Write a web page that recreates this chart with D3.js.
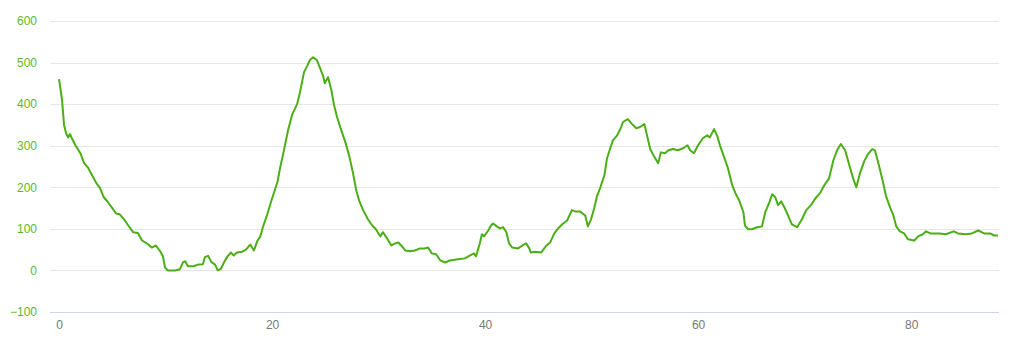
<!DOCTYPE html>
<html lang="en">
<meta charset="utf-8">
<style>
body {
  margin: 0;
  background: #fff;
  font-family: 'Liberation Sans', 'DejaVu Sans', sans-serif;
}
.grid line {
  stroke: #e6e6e6;
  stroke-width: 1;
}
.yaxis text {
  fill: #5cb82a;
  font-size: 12px;
}
.xaxis text {
  fill: #777777;
  font-size: 12px;
}
.elev {
  fill: none;
  stroke: #4cae16;
  stroke-width: 2;
  stroke-linejoin: round;
}
</style>
<body>
<div id="chart"></div>
<script src="https://cdnjs.cloudflare.com/ajax/libs/d3/7.8.5/d3.min.js"></script>
<script>

// distance (km) and elevation (m) read from the profile
var distance = [0, 0.28, 0.47, 0.66, 0.85, 1.03, 1.2, 1.5, 2.0, 2.35, 2.7, 3.1, 3.5, 3.85, 4.2, 4.6, 5.0, 5.35, 5.7, 6.1,
  6.5, 6.95, 7.4, 7.8, 8.35, 8.7, 9.1, 9.5, 9.75, 9.95, 10.2, 10.9, 11.35, 11.65, 11.85, 12.1, 12.6, 13.05, 13.5, 13.7,
  14.0, 14.3, 14.65, 14.9, 15.2, 15.5, 15.85, 16.15, 16.4, 16.7, 17.2, 17.55, 17.95, 18.3, 18.6, 18.9, 19.15, 19.55, 20.0, 20.5,
  20.75, 21.1, 21.5, 21.9, 22.35, 22.6, 23.0, 23.3, 23.55, 23.85, 24.2, 24.5, 24.8, 24.95, 25.25, 25.55, 25.8, 26.1, 26.5, 26.85,
  27.25, 27.6, 27.9, 28.2, 28.55, 29.0, 29.4, 29.75, 30.15, 30.4, 30.8, 31.2, 31.55, 31.85, 32.2, 32.5, 32.95, 33.4, 33.9, 34.35,
  34.65, 35.0, 35.4, 35.8, 36.25, 36.7, 37.45, 38.1, 38.6, 38.95, 39.15, 39.5, 39.7, 39.9, 40.3, 40.55, 40.75, 41.1, 41.4, 41.7,
  42.0, 42.25, 42.55, 43.1, 43.5, 43.85, 44.15, 44.3, 44.7, 45.25, 45.7, 46.1, 46.5, 46.85, 47.25, 47.7, 48.15, 48.45, 48.9, 49.4,
  49.65, 49.95, 50.25, 50.5, 50.8, 51.2, 51.45, 51.75, 52.0, 52.4, 52.7, 52.95, 53.4, 53.8, 54.2, 54.55, 54.95, 55.2, 55.5, 55.85,
  56.25, 56.5, 56.9, 57.2, 57.65, 58.1, 58.6, 59.0, 59.25, 59.6, 60.0, 60.45, 60.85, 61.1, 61.5, 61.8, 62.05, 62.45, 62.8, 63.2,
  63.5, 63.85, 64.25, 64.4, 64.7, 65.05, 65.55, 66.0, 66.3, 66.65, 66.95, 67.25, 67.5, 67.8, 68.1, 68.45, 68.8, 69.3, 69.75, 70.15,
  70.6, 71.0, 71.45, 71.85, 72.3, 72.7, 73.05, 73.4, 73.8, 74.2, 74.55, 74.85, 75.2, 75.6, 75.95, 76.35, 76.6, 76.9, 77.3, 77.65,
  78.05, 78.3, 78.6, 78.95, 79.35, 79.7, 80.3, 80.65, 81.1, 81.4, 81.8, 82.7, 83.25, 84.0, 84.4, 85.15, 85.7, 86.3, 86.85, 87.4,
  87.8, 88.15];

var elevation = [460, 410, 350, 330, 320, 328, 318, 303, 282, 258, 248, 229, 210, 198, 176, 164, 150, 137, 135, 123,
  108, 92, 90, 72, 63, 55, 60, 46, 34, 7, 0, 0, 3, 20, 22, 10, 10, 14, 15, 32,
  35, 20, 14, 0, 4, 20, 35, 43, 36, 43, 45, 50, 62, 48, 70, 82, 105, 135, 173, 212,
  246, 287, 337, 376, 400, 426, 477, 492, 506, 513, 506, 487, 467, 450, 465, 436, 400, 369, 337, 311,
  275, 234, 193, 166, 145, 123, 108, 99, 82, 92, 77, 60, 65, 67, 58, 48, 46, 48, 53, 53,
  55, 41, 39, 24, 19, 24, 27, 29, 36, 41, 34, 65, 87, 82, 96, 108, 113, 106, 101, 104,
  92, 65, 55, 53, 60, 65, 53, 43, 45, 43, 58, 67, 89, 101, 111, 120, 145, 142, 142, 132,
  106, 123, 150, 178, 198, 229, 270, 294, 313, 325, 340, 357, 364, 352, 342, 345, 352, 325, 292, 275,
  258, 284, 282, 289, 292, 289, 294, 301, 289, 282, 301, 318, 325, 320, 340, 323, 301, 272, 246, 205,
  186, 169, 140, 108, 99, 99, 104, 106, 140, 161, 183, 176, 157, 166, 152, 132, 111, 104, 123, 145,
  157, 173, 186, 205, 222, 265, 289, 304, 289, 253, 222, 200, 234, 263, 280, 292, 289, 260, 219, 178,
  150, 135, 106, 94, 89, 75, 72, 82, 87, 94, 89, 89, 87, 94, 89, 87, 89, 96, 89, 89,
  84, 84];

var yTicks = [-100, 0, 100, 200, 300, 400, 500, 600];
var xTicks = [0, 20, 40, 60, 80];

var width = 1024,
    height = 341;

var plotLeft = 50, plotRight = 999;

var x = d3.scaleLinear()
    .domain([-0.85, 88.25])
    .range([plotLeft, plotRight]);

var y = d3.scaleLinear()
    .domain([-100, 600])
    .range([312, 21]);

var svg = d3.select("#chart").append("svg")
    .attr("width", width)
    .attr("height", height);

// horizontal grid lines
svg.append("g")
    .attr("class", "grid")
  .selectAll("line")
    .data(yTicks)
  .enter().append("line")
    .attr("x1", plotLeft)
    .attr("x2", plotRight)
    .attr("y1", function(d) { return Math.round(y(d)) + 0.5; })
    .attr("y2", function(d) { return Math.round(y(d)) + 0.5; })
    .style("stroke", function(d) { return d === -100 ? "#ccd6eb" : null; });

// y labels
var yAxis = d3.axisLeft(y).tickValues(yTicks).tickSize(0).tickPadding(0)
    .tickFormat(function(d) { return d < 0 ? "\u2212" + Math.abs(d) : d; });
svg.append("g")
    .attr("class", "yaxis")
    .attr("transform", "translate(37,0)")
    .call(yAxis)
    .call(function(g) { g.select(".domain").remove(); });

// x labels
var xAxis = d3.axisBottom(x).tickValues(xTicks).tickSize(0).tickPadding(0);
svg.append("g")
    .attr("class", "xaxis")
    .attr("transform", "translate(0,320)")
    .call(xAxis)
    .call(function(g) { g.select(".domain").remove(); });

var points = distance.map(function(d, i) { return [d, elevation[i]]; });

var line = d3.line()
    .x(function(d) { return x(d[0]); })
    .y(function(d) { return y(d[1]); });

svg.append("path")
    .datum(points)
    .attr("class", "elev")
    .attr("d", line);

</script>
</body>
</html>
